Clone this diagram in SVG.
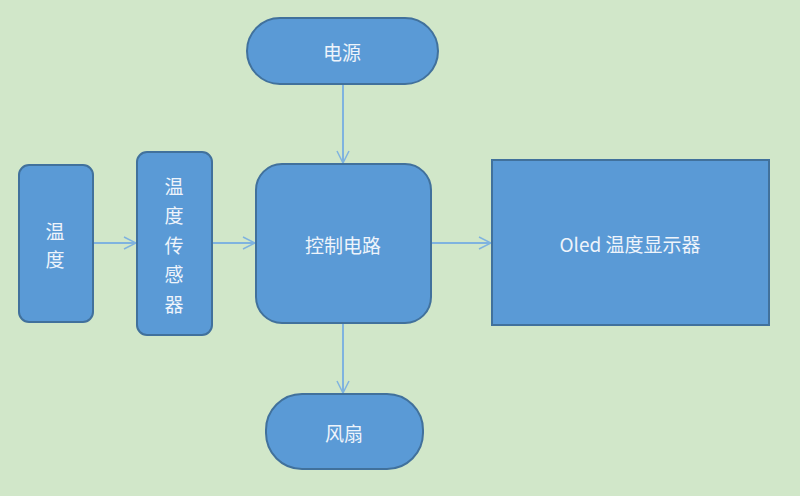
<svg xmlns="http://www.w3.org/2000/svg" width="800" height="496" viewBox="0 0 800 496">
<defs>
<marker id="arr" viewBox="0 0 14 14" refX="13" refY="7" markerWidth="14" markerHeight="14" markerUnits="userSpaceOnUse" orient="auto">
<path d="M1,1 L13,7 L1,13" fill="none" stroke="#7fb3df" stroke-width="1.5"/>
</marker>
<style>
.n{fill:#5a9ad6;stroke:#41719c;stroke-width:2}
.t{font-family:"Noto Sans CJK SC","Liberation Sans",sans-serif;font-size:19px;fill:#eef4fb;text-anchor:middle;dominant-baseline:central}
.c{stroke:#7fb3df;stroke-width:2;fill:none}
</style>
</defs>
<rect width="800" height="496" fill="#d1e7c9"/>
<g id="connectors">
<line class="c" x1="343" y1="84" x2="343" y2="163" marker-end="url(#arr)"/>
<line class="c" x1="93" y1="243" x2="136" y2="243" marker-end="url(#arr)"/>
<line class="c" x1="212" y1="243" x2="255" y2="243" marker-end="url(#arr)"/>
<line class="c" x1="431" y1="243" x2="491" y2="243" marker-end="url(#arr)"/>
<line class="c" x1="343" y1="323" x2="343" y2="393" marker-end="url(#arr)"/>
</g>
<g id="power">
<rect class="n" x="247" y="18" width="191" height="66" rx="33"/>
<text class="t" x="342" y="51">电源</text>
</g>
<g id="temp">
<rect class="n" x="19" y="165" width="74" height="157" rx="10"/>
<text class="t" x="55" y="230">温</text>
<text class="t" x="55" y="258">度</text>
</g>
<g id="sensor">
<rect class="n" x="137" y="152" width="75" height="183" rx="10"/>
<text class="t" x="174" y="185">温</text>
<text class="t" x="174" y="214">度</text>
<text class="t" x="174" y="244">传</text>
<text class="t" x="174" y="273">感</text>
<text class="t" x="174" y="303">器</text>
</g>
<g id="control">
<rect class="n" x="256" y="164" width="175" height="159" rx="26"/>
<text class="t" x="343" y="244">控制电路</text>
</g>
<g id="oled">
<rect class="n" x="492" y="160" width="277" height="165"/>
<text class="t" x="630" y="243">Oled 温度显示器</text>
</g>
<g id="fan">
<rect class="n" x="266" y="394" width="157" height="75" rx="36"/>
<text class="t" x="344" y="432">风扇</text>
</g>
</svg>
